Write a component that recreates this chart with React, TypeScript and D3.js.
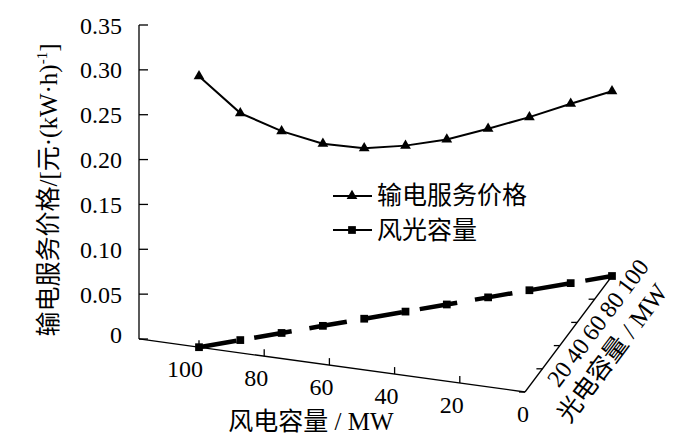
import * as d3 from 'd3';

// wind / solar capacity pairs along the floor, price above each pair
const windCap = [100, 90, 80, 70, 60, 50, 40, 30, 20, 10, 0];
const solarCap = [0, 10, 20, 30, 40, 50, 60, 70, 80, 90, 100];
const price = [0.302, 0.253, 0.225, 0.203, 0.19, 0.185, 0.184, 0.188, 0.193, 0.2, 0.206];

const priceTicks = [0, 0.05, 0.1, 0.15, 0.2, 0.25, 0.3, 0.35];
const windTicks = [100, 80, 60, 40, 20, 0];
const solarTicks = [0, 20, 40, 60, 80, 100];
const solarLabels = [20, 40, 60, 80, 100];

const FONT = "'Liberation Serif', 'Times New Roman', 'Noto Sans CJK SC', serif";

export default function App() {
  const width = 700;
  const height = 448;

  // oblique projection: wind runs right-to-left along the front, solar goes back
  const windX = d3.scaleLinear().domain([0, 100]).range([525, 199]);
  const windY = d3.scaleLinear().domain([0, 100]).range([392, 347.2]);
  const solarDX = d3.scaleLinear().domain([0, 100]).range([0, 87]);
  const solarDY = d3.scaleLinear().domain([0, 100]).range([0, -116]);
  const zDY = d3.scaleLinear().domain([0, 0.35]).range([0, -314]);
  const yFront = d3.scaleLinear().domain([0, 0.35]).range([339, 25]);

  const project = (w: number, s: number, z = 0): [number, number] => [
    windX(w) + solarDX(s),
    windY(w) + solarDY(s) + zDY(z),
  ];

  const axisX = 139;
  const windMax = windX.invert(axisX);
  const solarAngle = (Math.atan2(solarDY(100), solarDX(100)) * 180) / Math.PI;

  const pts = windCap.map((w, i) => ({ w, s: solarCap[i], p: price[i] }));
  const line = d3.line<[number, number]>();
  const floorPath = line(pts.map((d) => project(d.w, d.s)))!;
  const pricePath = line(pts.map((d) => project(d.w, d.s, d.p)))!;

  const tri = d3.symbol().type(d3.symbolTriangle).size(50)()!;
  const sq = d3.symbol().type(d3.symbolSquare).size(60)()!;

  const corner = project(0, 0);
  const solarEnd = project(0, 100);
  const solarMid = project(0, 50);

  return (
    <svg
      width={width}
      height={height}
      style={{ position: 'absolute', left: 0, top: 0, background: '#fff' }}
      fontFamily={FONT}
    >
      {/* front price axis */}
      <line x1={axisX} x2={axisX} y1={yFront(0)} y2={yFront(0.35)} stroke="#000" strokeWidth={1.3} />
      {priceTicks.map((t) => (
        <g key={t}>
          <line x1={axisX} x2={axisX + 9} y1={yFront(t)} y2={yFront(t)} stroke="#000" strokeWidth={1.3} />
          <text x={122} y={yFront(t) + (t === 0 ? 4 : 8.5)} textAnchor="end" fontSize={24}>
            {t === 0 ? '0' : t.toFixed(2)}
          </text>
        </g>
      ))}
      <text transform={`translate(57,190) rotate(-90)`} textAnchor="middle" fontSize={25}>
        输电服务价格/[元·(kW·h)
        <tspan fontSize={15} dy={-10}>-1</tspan>
        <tspan dy={10}>]</tspan>
      </text>

      {/* wind axis */}
      <line
        x1={windX(windMax)}
        y1={windY(windMax)}
        x2={corner[0]}
        y2={corner[1]}
        stroke="#000"
        strokeWidth={1.3}
      />
      {windTicks.map((w) => (
        <g key={w}>
          {w > 0 && (
            <line x1={windX(w)} x2={windX(w)} y1={windY(w)} y2={windY(w) - 7} stroke="#000" strokeWidth={1.3} />
          )}
          <text x={windX(w) + 4} y={windY(w) + 30} textAnchor="end" fontSize={24}>
            {w}
          </text>
        </g>
      ))}
      <text x={311} y={430} textAnchor="middle" fontSize={25}>
        风电容量 / MW
      </text>

      {/* solar axis */}
      <line x1={corner[0]} y1={corner[1]} x2={solarEnd[0]} y2={solarEnd[1]} stroke="#000" strokeWidth={1.3} />
      {solarTicks.map((s) => {
        const [x, y] = project(0, s);
        return <line key={s} x1={x} x2={x - 6} y1={y} y2={y} stroke="#000" strokeWidth={1.3} />;
      })}
      {solarLabels.map((s) => {
        const [x, y] = project(0, s);
        return (
          <text key={s} transform={`translate(${x},${y}) rotate(${solarAngle})`} x={-6} y={25} fontSize={24}>
            {s}
          </text>
        );
      })}
      <text
        transform={`translate(${solarMid[0]},${solarMid[1]}) rotate(${solarAngle})`}
        x={11}
        y={55}
        textAnchor="middle"
        fontSize={25}
      >
        光电容量 / MW
      </text>

      {/* floor trajectory: wind + solar capacity */}
      <path d={floorPath} fill="none" stroke="#000" strokeWidth={4.5} strokeDasharray="38,18" />
      {pts.map((d, i) => {
        const [x, y] = project(d.w, d.s);
        return <path key={i} d={sq} transform={`translate(${x},${y})`} fill="#000" />;
      })}

      {/* transmission service price */}
      <path d={pricePath} fill="none" stroke="#000" strokeWidth={2} />
      {pts.map((d, i) => {
        const [x, y] = project(d.w, d.s, d.p);
        return <path key={i} d={tri} transform={`translate(${x},${y})`} fill="#000" />;
      })}

      {/* legend */}
      <line x1={333} x2={372} y1={196} y2={196} stroke="#000" strokeWidth={2} />
      <path d={tri} transform="translate(352,196)" fill="#000" />
      <text x={377} y={203.5} fontSize={25}>
        输电服务价格
      </text>
      <line x1={333} x2={372} y1={230} y2={230} stroke="#000" strokeWidth={2} />
      <path d={sq} transform="translate(352,230)" fill="#000" />
      <text x={377} y={238.5} fontSize={25}>
        风光容量
      </text>
    </svg>
  );
}
